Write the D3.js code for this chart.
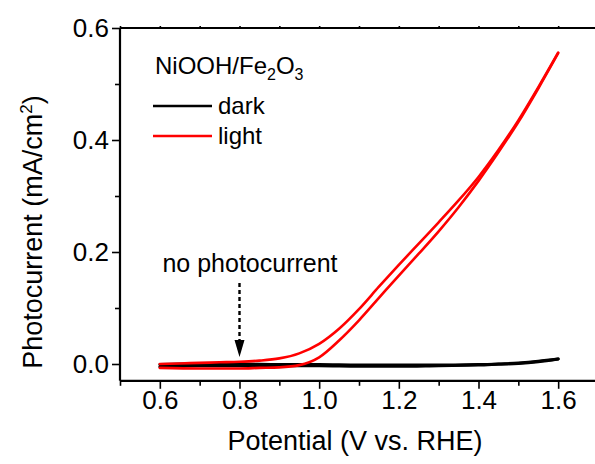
<!DOCTYPE html>
<html>
<head>
<meta charset="utf-8">
<script src="https://cdn.jsdelivr.net/npm/d3@7"></script>
<style>
  body { margin: 0; background: #fff; }
  text { font-family: "Liberation Sans", Arial, sans-serif; fill: #000; }
</style>
</head>
<body>
<script>
// Data (potential in V vs. RHE, current in mA/cm2)
const darkForwardV = [0.6, 0.65, 0.7, 0.8, 0.9, 1.0, 1.1, 1.2, 1.3, 1.4, 1.45, 1.5, 1.55, 1.6]
const darkForwardI = [-0.005, -0.003, -0.003, -0.003, -0.003, -0.003, -0.004, -0.004, -0.003, -0.002, 0.000, 0.002, 0.005, 0.009]
const darkReverseV = [1.6, 1.55, 1.5, 1.4, 1.3, 1.2, 1.1, 1.0, 0.9, 0.8, 0.7, 0.65, 0.6]
const darkReverseI = [0.009, 0.004, 0.001, -0.001, -0.002, -0.002, -0.002, -0.001, -0.001, 0.000, 0.000, 0.000, -0.001]

const lightForwardV = [0.6, 0.7, 0.8, 0.85, 0.9, 0.95, 1.0, 1.05, 1.1, 1.15, 1.2, 1.25, 1.3, 1.35, 1.4, 1.45, 1.5, 1.55, 1.6]
const lightForwardI = [-0.007, -0.008, -0.008, -0.007, -0.006, -0.002, 0.012, 0.042, 0.078, 0.118, 0.158, 0.197, 0.237, 0.280, 0.327, 0.378, 0.432, 0.492, 0.555]
const lightReverseV = [1.6, 1.55, 1.5, 1.45, 1.4, 1.35, 1.3, 1.25, 1.2, 1.15, 1.1, 1.05, 1.0, 0.95, 0.9, 0.85, 0.8, 0.75, 0.7, 0.65, 0.6]
const lightReverseI = [0.556, 0.494, 0.435, 0.382, 0.334, 0.292, 0.253, 0.215, 0.177, 0.138, 0.098, 0.063, 0.036, 0.019, 0.010, 0.006, 0.004, 0.003, 0.002, 0.001, 0.000]

const xMajor = [0.6, 0.8, 1.0, 1.2, 1.4, 1.6]
const xMinor = [0.5, 0.7, 0.9, 1.1, 1.3, 1.5, 1.7]
const yMajor = [0.0, 0.2, 0.4, 0.6]
const yMinor = [0.1, 0.3, 0.5]

const w = 595
const h = 464
const plotLeft = 120, plotRight = 598, plotTop = 28, plotBottom = 380.8

const svg = d3.select('body').append('svg')
  .attr('width', w)
  .attr('height', h)

const x = d3.scaleLinear().domain([0.5, 1.7]).range([plotLeft, plotRight])
const y = d3.scaleLinear().domain([-0.03, 0.6]).range([plotBottom, plotTop])

const zip = (vs, is) => vs.map((v, i) => [v, is[i]])
const line = d3.line().x(d => x(d[0])).y(d => y(d[1])).curve(d3.curveMonotoneX)

// curves
const curves = [
  { data: zip(darkForwardV, darkForwardI), color: '#000', width: 3 },
  { data: zip(darkReverseV, darkReverseI), color: '#000', width: 3 },
  { data: zip(lightForwardV, lightForwardI), color: '#f00', width: 2.6 },
  { data: zip(lightReverseV, lightReverseI), color: '#f00', width: 2.6 }
]
svg.selectAll('path.curve')
  .data(curves)
  .enter()
  .append('path')
  .attr('class', 'curve')
  .attr('d', d => line(d.data.slice().sort((a, b) => a[0] - b[0])))
  .attr('fill', 'none')
  .attr('stroke', d => d.color)
  .attr('stroke-width', d => d.width)
  .attr('stroke-linecap', 'round')

// axes
const xAxis = svg.append('g').attr('transform', `translate(0,${plotBottom})`)
  .call(d3.axisBottom(x).tickValues(xMajor).tickSize(8).tickPadding(2).tickFormat(d3.format('.1f')))
xAxis.append('g')
  .call(d3.axisBottom(x).tickValues(xMinor).tickSize(5).tickFormat(''))
  .select('.domain').remove()

const yAxis = svg.append('g').attr('transform', `translate(${plotLeft},0)`)
  .call(d3.axisLeft(y).tickValues(yMajor).tickSize(8).tickPadding(3).tickFormat(d3.format('.1f')))
yAxis.append('g')
  .call(d3.axisLeft(y).tickValues(yMinor).tickSize(5).tickFormat(''))
  .select('.domain').remove()

// top border with small ticks
const topAxis = svg.append('g').attr('transform', `translate(0,${plotTop})`)
  .call(d3.axisTop(x).tickValues(xMajor.concat(xMinor)).tickSize(2).tickFormat(''))

svg.selectAll('.domain').attr('stroke-width', 2.2)
svg.selectAll('.tick line').attr('stroke-width', 1.6)
svg.selectAll('.tick text')
  .style('font-size', '26px')
  .style('font-family', '"Liberation Sans", Arial, sans-serif')

xAxis.select('.domain').attr('d', `M${plotLeft},0H${plotRight}`)
yAxis.select('.domain').attr('d', `M0,${plotTop}V${plotBottom}`)
topAxis.select('.domain').attr('d', `M${plotLeft},0H${plotRight}`)

// axis titles
svg.append('text')
  .attr('x', 355)
  .attr('y', 450)
  .attr('text-anchor', 'middle')
  .style('font-size', '27px')
  .text('Potential (V vs. RHE)')

const yTitle = svg.append('text')
  .attr('transform', 'translate(42,232) rotate(-90)')
  .attr('text-anchor', 'middle')
  .style('font-size', '27px')
yTitle.append('tspan').text('Photocurrent (mA/cm')
yTitle.append('tspan').attr('dy', -10).style('font-size', '17px').text('2')
yTitle.append('tspan').attr('dy', 10).text(')')

// legend
const legend = svg.append('g')
const head = legend.append('text').attr('x', 155).attr('y', 74).style('font-size', '24px')
head.append('tspan').text('NiOOH/Fe')
head.append('tspan').attr('dy', 6).style('font-size', '16px').text('2')
head.append('tspan').attr('dy', -6).text('O')
head.append('tspan').attr('dy', 6).style('font-size', '16px').text('3')

const legendItems = [
  { label: 'dark', color: '#000' },
  { label: 'light', color: '#f00' }
]
const items = legend.selectAll('g.item')
  .data(legendItems)
  .enter()
  .append('g')
  .attr('class', 'item')
  .attr('transform', (d, i) => `translate(0,${106 + i * 30})`)
items.append('line')
  .attr('x1', 153).attr('x2', 212)
  .attr('stroke', d => d.color)
  .attr('stroke-width', 2.6)
items.append('text')
  .attr('x', 218)
  .attr('y', 8)
  .style('font-size', '24px')
  .text(d => d.label)

// annotation
svg.append('text')
  .attr('x', 250)
  .attr('y', 272)
  .attr('text-anchor', 'middle')
  .style('font-size', '25px')
  .text('no photocurrent')

const ax = x(0.8)
svg.append('line')
  .attr('x1', ax).attr('x2', ax)
  .attr('y1', 283).attr('y2', 341)
  .attr('stroke', '#000')
  .attr('stroke-width', 2.4)
  .attr('stroke-dasharray', '4,3')
svg.append('path')
  .attr('d', `M${ax - 5},340L${ax + 5},340L${ax},357Z`)
  .attr('fill', '#000')
</script>
</body>
</html>
